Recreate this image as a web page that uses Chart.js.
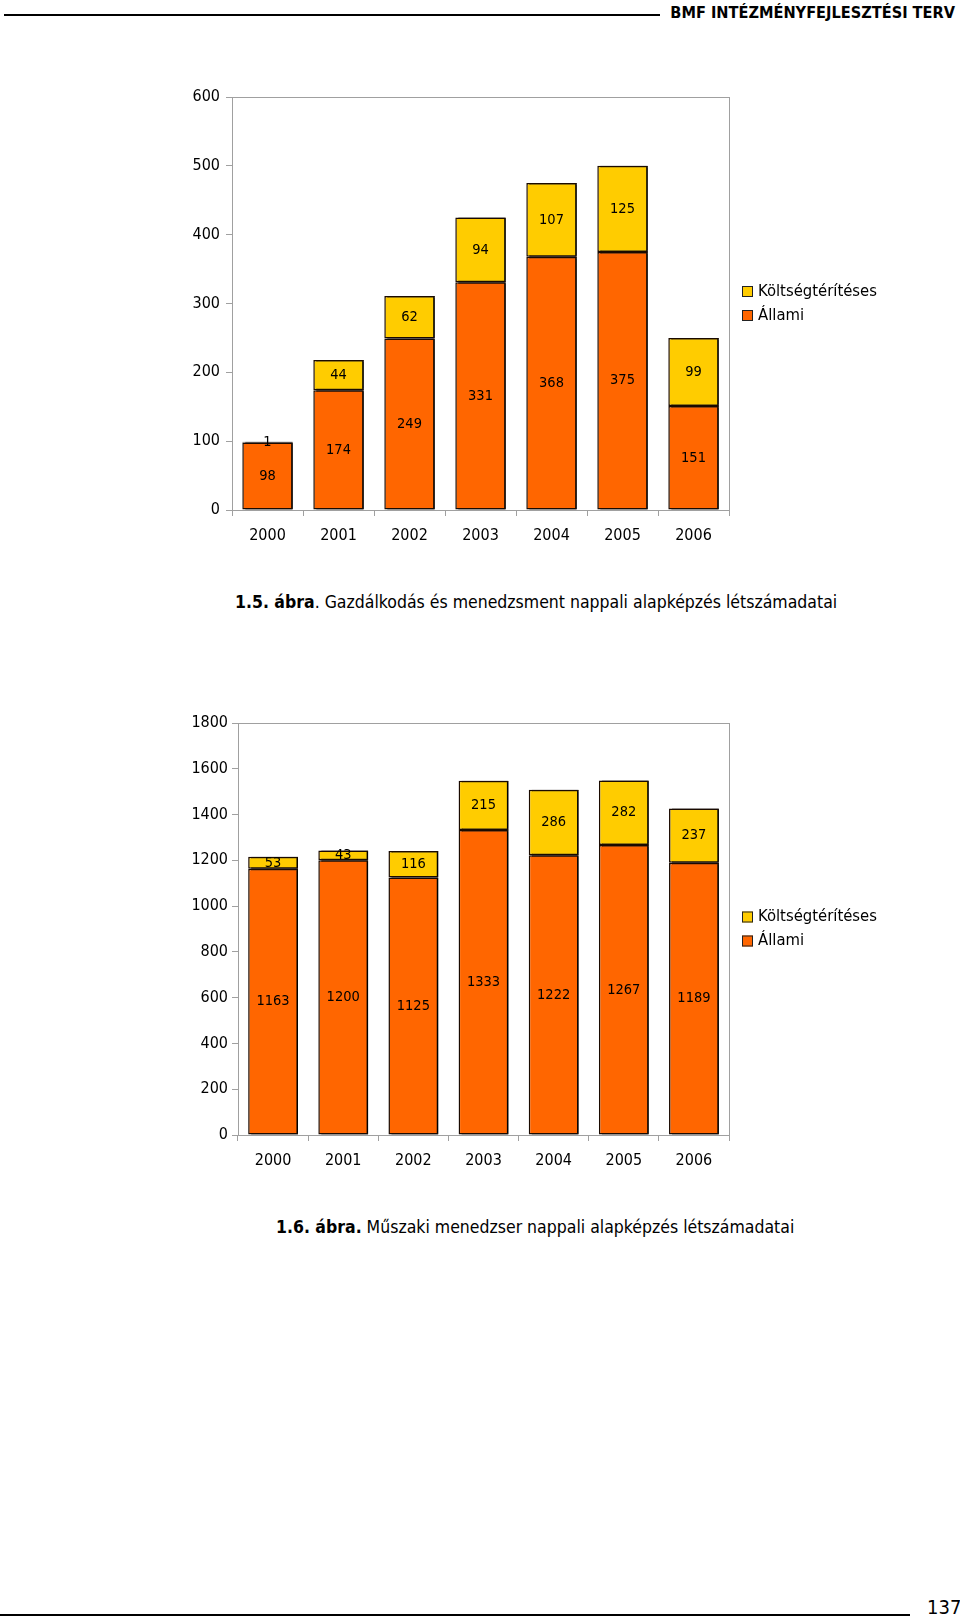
<!DOCTYPE html>
<html>
<head>
<meta charset="utf-8">
<script src="https://cdn.jsdelivr.net/npm/chart.js@4"></script>
<style>
  html, body { margin: 0; padding: 0; background: #fff; }
  #page { position: relative; width: 960px; height: 1620px; overflow: hidden;
          font-family: 'DejaVu Sans Condensed', 'DejaVu Sans', sans-serif; color: #000; }
  .abs { position: absolute; }
  .rule { position: absolute; background: #000; height: 2px; }
  .caption { position: absolute; font-size: 17.5px; line-height: 20px; white-space: nowrap; }
  canvas { position: absolute; left: 0; }
</style>
</head>
<body>
<div id="page">
  <div class="rule" style="left:4px; top:14px; width:656px;"></div>
  <div class="abs" style="right:5px; top:3px; font-weight:bold; font-size:16.2px; line-height:20px;">BMF INTÉZMÉNYFEJLESZTÉSI TERV</div>

  <canvas id="chart1" width="960" height="510" style="top:61px;"></canvas>
  <div class="caption" style="left:235px; top:592px;"><b>1.5. ábra</b>. Gazdálkodás és menedzsment nappali alapképzés létszámadatai</div>

  <canvas id="chart2" width="960" height="510" style="top:683px;"></canvas>
  <div class="caption" style="left:276px; top:1217px;"><b>1.6. ábra.</b> Műszaki menedzser nappali alapképzés létszámadatai</div>

  <div class="rule" style="left:0; top:1614px; width:910px;"></div>
  <div class="abs" style="left:927px; top:1597px; font-size:20px; line-height:20px;">137</div>
</div>

<script>
// years on the x axis (both charts)
const years = ['2000', '2001', '2002', '2003', '2004', '2005', '2006'];

// 1.5. ábra - Gazdálkodás és menedzsment
const gmAllami = [98, 174, 249, 331, 368, 375, 151];
const gmKoltseg = [1, 44, 62, 94, 107, 125, 99];

// 1.6. ábra - Műszaki menedzser
const mmAllami = [1163, 1200, 1125, 1333, 1222, 1267, 1189];
const mmKoltseg = [53, 43, 116, 215, 286, 282, 237];

const ORANGE = '#FF6600';
const YELLOW = '#FFCC00';
const FONT = "'DejaVu Sans Condensed', 'DejaVu Sans', sans-serif";

// black drop shadow on the right side of the bars
const barShadow = {
    id: 'barShadow',
    beforeDatasetsDraw(chart) {
        const ctx = chart.ctx;
        ctx.save();
        ctx.shadowColor = '#000';
        ctx.shadowOffsetX = 3;
        ctx.shadowOffsetY = 0;
        ctx.shadowBlur = 0;
    },
    afterDatasetsDraw(chart) {
        chart.ctx.restore();
    }
};

// value labels in the middle of each segment + plot frame + legend
const decorations = {
    id: 'decorations',
    afterDraw(chart) {
        const ctx = chart.ctx;
        const area = chart.chartArea;

        // frame around the plot area
        ctx.save();
        ctx.strokeStyle = '#a0a0a0';
        ctx.lineWidth = 1;
        ctx.strokeRect(Math.round(area.left) + 0.5, Math.round(area.top) + 0.5,
                       Math.round(area.right - area.left), Math.round(area.bottom - area.top));
        ctx.restore();

        // segment values
        ctx.save();
        ctx.font = '14.5px ' + FONT;
        ctx.fillStyle = '#000';
        ctx.textAlign = 'center';
        ctx.textBaseline = 'middle';
        chart.data.datasets.forEach((ds, i) => {
            chart.getDatasetMeta(i).data.forEach((bar, j) => {
                const p = bar.getCenterPoint();
                ctx.fillText(String(ds.data[j]), p.x, p.y);
            });
        });
        ctx.restore();

        // legend, top stack first, centred on the plot
        ctx.save();
        ctx.font = '16.5px ' + FONT;
        ctx.textBaseline = 'middle';
        const items = chart.data.datasets.slice().reverse();
        const midY = (area.top + area.bottom) / 2;
        items.forEach((ds, k) => {
            const y = midY + (k - (items.length - 1) / 2) * 24;
            const x = area.right + 13;
            ctx.fillStyle = ds.backgroundColor;
            ctx.fillRect(x, y - 5.5, 11, 11);
            ctx.strokeStyle = '#222';
            ctx.lineWidth = 1;
            ctx.strokeRect(x + 0.5, y - 5, 10, 10);
            ctx.fillStyle = '#000';
            ctx.fillText(ds.label, x + 16, y);
        });
        ctx.restore();
    }
};

function makeChart(canvasId, allami, koltseg, yMax, yStep, box) {
    const ctx = document.getElementById(canvasId).getContext('2d');
    return new Chart(ctx, {
        type: 'bar',
        data: {
            labels: years,
            datasets: [
                { label: 'Állami', data: allami, backgroundColor: ORANGE,
                  borderColor: '#1a0a00', borderWidth: 1.5, borderSkipped: false },
                { label: 'Költségtérítéses', data: koltseg, backgroundColor: YELLOW,
                  borderColor: '#1a0a00', borderWidth: 1.5, borderSkipped: false }
            ]
        },
        options: {
            responsive: false,
            animation: false,
            devicePixelRatio: 1,
            layout: { padding: { top: box.padTop, right: 960 - box.right, left: 0, bottom: 0 } },
            datasets: { bar: { barPercentage: 0.71, categoryPercentage: 1 } },
            plugins: { legend: { display: false }, tooltip: { enabled: false } },
            scales: {
                x: {
                    stacked: true,
                    afterFit(scale) { scale.height = box.xHeight; },
                    grid: { display: true, drawOnChartArea: false, drawTicks: true, tickLength: 6,
                            color: '#a0a0a0', offset: true },
                    border: { color: '#a0a0a0' },
                    ticks: { color: '#000', font: { family: FONT, size: 16 }, padding: 10, maxRotation: 0 }
                },
                y: {
                    stacked: true,
                    min: 0, max: yMax,
                    afterFit(scale) { scale.width = box.left; },
                    grid: { display: true, drawOnChartArea: false, drawTicks: true, tickLength: 6,
                            color: '#a0a0a0' },
                    border: { color: '#a0a0a0' },
                    ticks: { stepSize: yStep, color: '#000', font: { family: FONT, size: 16 },
                             padding: box.tickPad, callback: v => String(v) }
                }
            }
        },
        plugins: [barShadow, decorations]
    });
}

// canvas 1 starts at page y=61, canvas 2 at page y=683
makeChart('chart1', gmAllami, gmKoltseg, 600, 100,
          { left: 232, right: 729, padTop: 36, xHeight: 510 - 449, tickPad: 6 });
makeChart('chart2', mmAllami, mmKoltseg, 1800, 200,
          { left: 238, right: 729, padTop: 40, xHeight: 510 - 452, tickPad: 4 });
</script>
</body>
</html>
